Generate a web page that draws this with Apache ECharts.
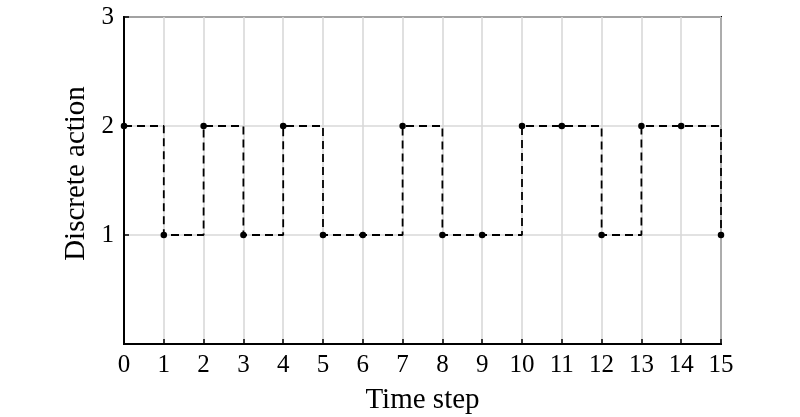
<!DOCTYPE html>
<html><head><meta charset="utf-8">
<script src="https://cdn.jsdelivr.net/npm/echarts@6/dist/echarts.min.js"></script>
<style>html,body{margin:0;padding:0;background:#fff}#c{width:800px;height:417px}</style>
</head><body><div id="c"></div>
<script>
const timeSteps = [0,1,2,3,4,5,6,7,8,9,10,11,12,13,14,15];
const actions = [2,1,2,1,2,1,1,2,1,1,2,2,1,2,2,1];
const yTicks = [1,2,3];
const font = 'Liberation Serif';
const chart = echarts.init(document.getElementById('c'), null, {renderer:'canvas'});
chart.setOption({
  animation:false,
  backgroundColor:'#fff',
  grid:{left:124,right:79,top:17,bottom:73,containLabel:false,outerBoundsMode:'none',
    show:true,borderColor:'#000',borderWidth:2,backgroundColor:'transparent'},
  xAxis:{type:'value',min:0,max:15,interval:1,
    name:'Time step',nameLocation:'middle',nameGap:42,
    nameTextStyle:{fontFamily:font,fontSize:29,color:'#000'},
    axisLine:{show:true,lineStyle:{color:'#000',width:2}},
    axisTick:{show:true,inside:true,length:5,lineStyle:{color:'#000',width:1.5}},
    axisLabel:{fontFamily:font,fontSize:25,color:'#000',margin:9},
    splitLine:{show:true,lineStyle:{color:'#d9d9d9',width:1.6}}},
  yAxis:{type:'value',min:0,max:3,interval:1,
    name:'Discrete action',nameLocation:'middle',nameGap:30,
    nameTextStyle:{fontFamily:font,fontSize:29,color:'#000',padding:[0,0,0,14]},
    axisLine:{show:true,lineStyle:{color:'#000',width:2}},
    axisTick:{show:true,inside:true,length:5,lineStyle:{color:'#000',width:1.5}},
    axisLabel:{fontFamily:font,fontSize:25,color:'#000',margin:10,
      formatter:v=>yTicks.includes(v)?String(v):''},
    splitLine:{show:true,lineStyle:{color:'#d9d9d9',width:1.6}}},
  series:[{type:'line',step:'end',
    data:timeSteps.map((t,i)=>[t,actions[i]]),
    symbol:'circle',symbolSize:6.5,
    itemStyle:{color:'#000'},
    lineStyle:{color:'#000',width:1.8,type:[8,5]}}]
});
</script></body></html>
